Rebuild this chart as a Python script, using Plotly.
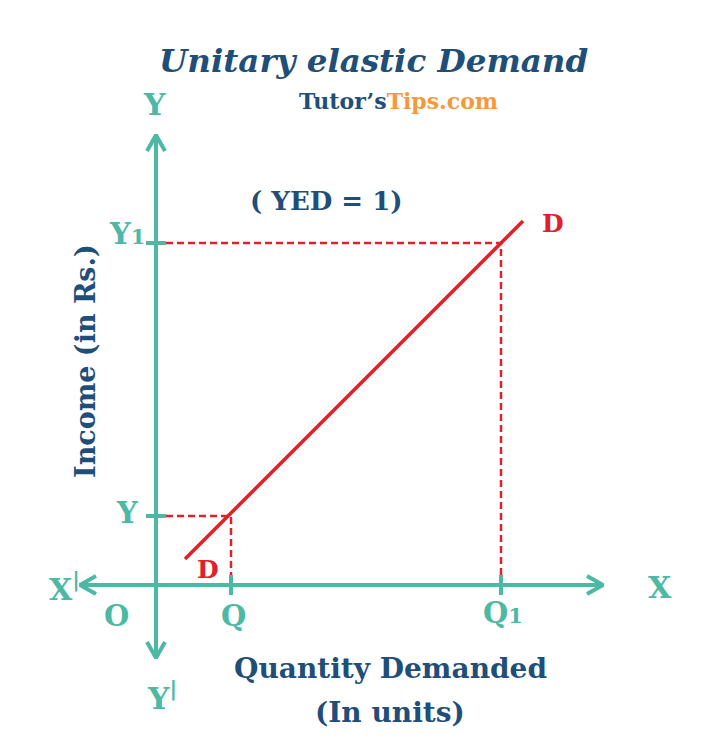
import plotly.graph_objects as go

# ---- data (units measured from the origin O) ----
quantity_points = [75, 345]          # Q, Q1
income_points = [69, 342]            # Y, Y1
quantity_labels = ["Q", "Q<span style='font-size:21px'>1</span>"]
income_labels = ["Y", "Y<span style='font-size:21px'>1</span>"]
demand_quantity = [29, 367]          # D-D line ends
demand_income = [26, 364]
x_axis_extent = [-76, 447]
y_axis_extent = [-73, 450]

TEAL = "#4DB8A4"
RED = "#E2202A"
NAVY = "#1F4E79"
ORANGE = "#F7993A"
SERIF = "DejaVu Serif"

fig = go.Figure()

# axes
fig.add_trace(go.Scatter(x=x_axis_extent, y=[0, 0], mode="lines",
                         line=dict(color=TEAL, width=4), hoverinfo="skip"))
fig.add_trace(go.Scatter(x=[0, 0], y=y_axis_extent, mode="lines",
                         line=dict(color=TEAL, width=4), hoverinfo="skip"))

# chevron arrowheads
ab, aw = 16, 9
heads = []
for tip, sign in ((x_axis_extent[1], -1), (x_axis_extent[0], 1)):
    heads.append(([tip + sign * ab, tip, tip + sign * ab], [aw, 0, -aw]))
for tip, sign in ((y_axis_extent[1], -1), (y_axis_extent[0], 1)):
    heads.append(([-aw, 0, aw], [tip + sign * ab, tip, tip + sign * ab]))
for hx, hy in heads:
    fig.add_trace(go.Scatter(x=hx, y=hy, mode="lines",
                             line=dict(color=TEAL, width=4), hoverinfo="skip"))

# ticks
tk = 10
for q in quantity_points:
    fig.add_trace(go.Scatter(x=[q, q], y=[-tk, tk], mode="lines",
                             line=dict(color=TEAL, width=4), hoverinfo="skip"))
for inc in income_points:
    fig.add_trace(go.Scatter(x=[-tk, tk], y=[inc, inc], mode="lines",
                             line=dict(color=TEAL, width=4), hoverinfo="skip"))

# dashed guides
for q, inc in zip(quantity_points, income_points):
    fig.add_trace(go.Scatter(x=[tk, q, q], y=[inc, inc, tk], mode="lines",
                             line=dict(color=RED, width=2.5, dash="7px,4px"),
                             hoverinfo="skip"))

# demand line
fig.add_trace(go.Scatter(x=demand_quantity, y=demand_income, mode="lines",
                         line=dict(color=RED, width=3.5), hoverinfo="skip"))

ann = []

def txt(x, y, text, size, color, **kw):
    d = dict(x=x, y=y, xref="x", yref="y", text=text, showarrow=False,
             font=dict(family=SERIF, size=size, color=color), **kw)
    ann.append(d)

# tick labels
q_label_dy = [-31, -28]
y_label_dy = [3, 9]
for q, lab, dy in zip(quantity_points, quantity_labels, q_label_dy):
    txt(q + 2, dy, "<b>" + lab + "</b>", 29, TEAL)
for inc, lab, dy in zip(income_points, income_labels, y_label_dy):
    txt(-29, inc + dy, "<b>" + lab + "</b>", 29, TEAL)

txt(-40, -31, "<b>O</b>", 29, TEAL)
txt(-92, -2, "<b>X<sup>|</sup></b>", 30, TEAL)
txt(504, -2, "<b>X</b>", 30, TEAL)
txt(-2, 481, "<b>Y</b>", 30, TEAL)
txt(6, -111, "<b>Y<sup>|</sup></b>", 30, TEAL)

txt(demand_quantity[1] + 30, demand_income[1] - 2, "<b>D</b>", 25, RED)
txt(demand_quantity[0] + 23, demand_income[0] - 10, "<b>D</b>", 25, RED)

txt(170, 384, "<b>( YED = 1)</b>", 26, NAVY)
txt(-71, 224, "<b>Income (in Rs.)</b>", 27, NAVY, textangle=-90)
txt(234, -83, "<b>Quantity Demanded</b>", 28, NAVY)
txt(234, -127, "<b>(In units)</b>", 28, NAVY)

txt(217, 525, "<b><i>Unitary elastic Demand</i></b>", 32.5, NAVY)
txt(242, 484, "<b>Tutor’s<span style='color:%s'>Tips.com</span></b>" % ORANGE, 22, NAVY)

fig.update_layout(
    width=725, height=741,
    margin=dict(l=0, r=0, t=0, b=0),
    paper_bgcolor="white", plot_bgcolor="white",
    showlegend=False,
    xaxis=dict(range=[-156, 569], visible=False, fixedrange=True),
    yaxis=dict(range=[-156, 585], visible=False, fixedrange=True),
    annotations=ann,
)

fig.write_html("out.html")
